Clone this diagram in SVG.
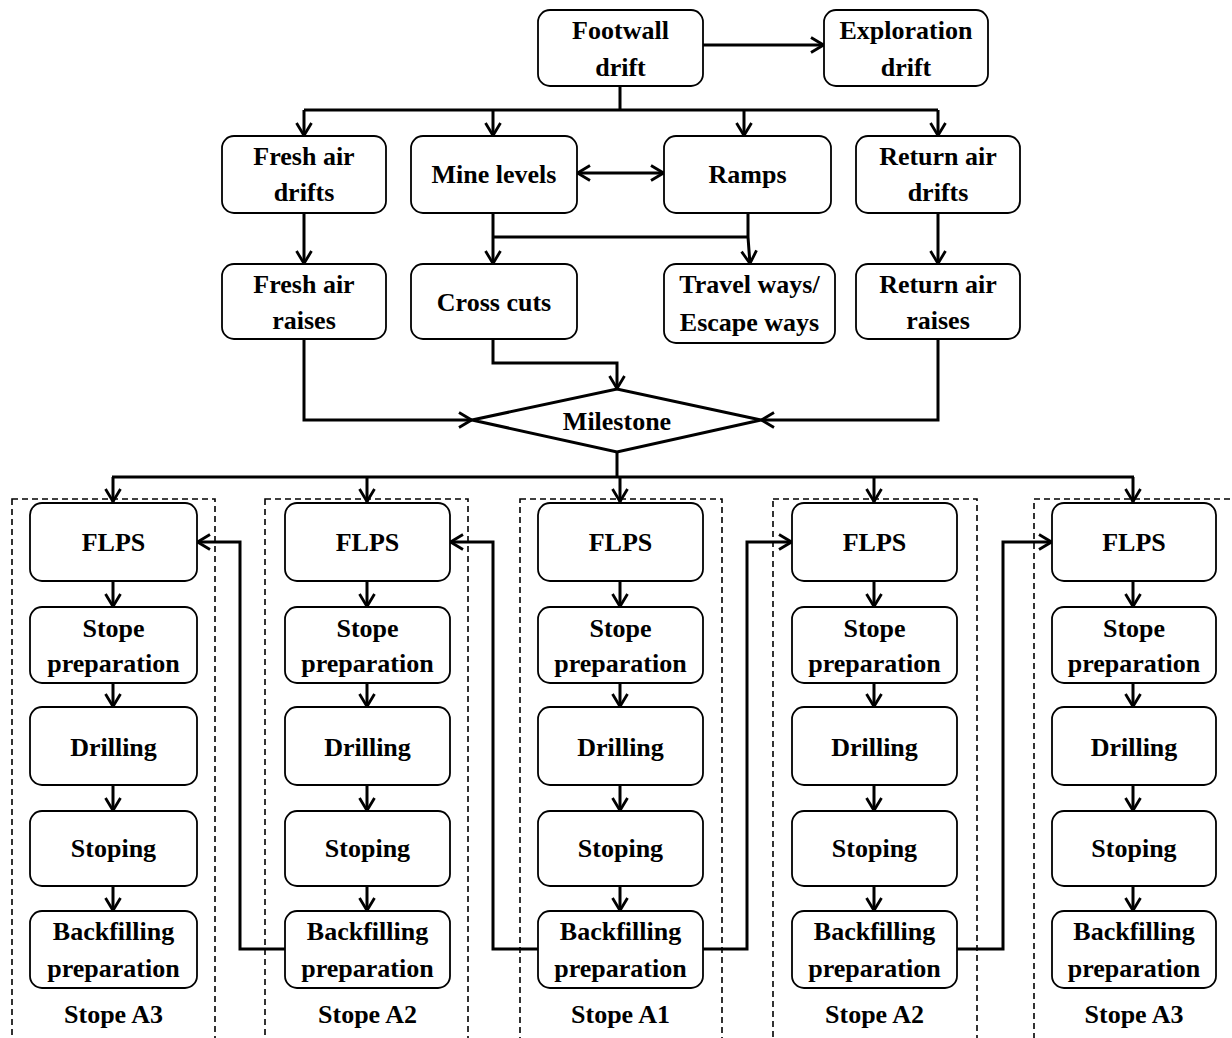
<svg xmlns="http://www.w3.org/2000/svg" width="1232" height="1038" viewBox="0 0 1232 1038">
  <style>
    .box { fill: #fff; stroke: #000; stroke-width: 1.8; }
    .grp { fill: none; stroke: #000; stroke-width: 1.6; stroke-dasharray: 6 4; }
    .lbl { font-family: "Liberation Serif", "Times New Roman", serif; font-weight: bold; font-size: 26px; text-anchor: middle; fill: #000; }
    .wire { fill: none; stroke: #000; stroke-width: 3; }
    .arr { marker-end: url(#head); }
  </style>
  <defs>
    <marker id="head" viewBox="0 0 16 18" refX="14.5" refY="9" markerWidth="16" markerHeight="18" markerUnits="userSpaceOnUse" orient="auto-start-reverse">
      <path d="M1.5,1.5 L14,9 L1.5,16.5" fill="none" stroke="#000" stroke-width="2.8"/>
    </marker>
  </defs>

  <rect width="1232" height="1038" fill="#fff"/>

  <!-- stope group frames -->
  <g id="stope-frames">
    <rect class="grp" x="12" y="499" width="203" height="560"/>
    <rect class="grp" x="265" y="499" width="203" height="560"/>
    <rect class="grp" x="520" y="499" width="202" height="560"/>
    <rect class="grp" x="773" y="499" width="204" height="560"/>
    <rect class="grp" x="1034" y="499" width="210" height="560"/>
  </g>

  <!-- connectors -->
  <g id="connectors">
    <path class="wire arr" d="M703,45 H824"/>
    <path class="wire" d="M620,86 V110 M304,110 H938"/>
    <path class="wire arr" d="M304,110 V136"/>
    <path class="wire arr" d="M493,110 V136"/>
    <path class="wire arr" d="M744,110 V136"/>
    <path class="wire arr" d="M938,110 V136"/>
    <path class="wire arr" d="M577,173 H664" marker-start="url(#head)"/>
    <path class="wire arr" d="M304,213 V264"/>
    <path class="wire arr" d="M493,213 V264"/>
    <path class="wire" d="M493,237 H748"/>
    <path class="wire arr" d="M748,213 V237 L750,264"/>
    <path class="wire arr" d="M938,213 V264"/>
    <path class="wire arr" d="M493,339 V363 H617 V389"/>
    <path class="wire arr" d="M304,339 V420 H472"/>
    <path class="wire arr" d="M938,339 V420 H761"/>
    <path class="wire" d="M617,452 V477 M112,477 H1134"/>
    <path class="wire arr" d="M113,477 V502"/>
    <path class="wire arr" d="M367,477 V502"/>
    <path class="wire arr" d="M620,477 V502"/>
    <path class="wire arr" d="M874,477 V502"/>
    <path class="wire arr" d="M1133,477 V502"/>
    <!-- steps inside each stope -->
    <g id="stope-steps">
      <path class="wire arr" d="M113,581 V607"/>
      <path class="wire arr" d="M113,683 V707"/>
      <path class="wire arr" d="M113,785 V811"/>
      <path class="wire arr" d="M113,886 V911"/>
      <path class="wire arr" d="M367,581 V607"/>
      <path class="wire arr" d="M367,683 V707"/>
      <path class="wire arr" d="M367,785 V811"/>
      <path class="wire arr" d="M367,886 V911"/>
      <path class="wire arr" d="M620,581 V607"/>
      <path class="wire arr" d="M620,683 V707"/>
      <path class="wire arr" d="M620,785 V811"/>
      <path class="wire arr" d="M620,886 V911"/>
      <path class="wire arr" d="M874,581 V607"/>
      <path class="wire arr" d="M874,683 V707"/>
      <path class="wire arr" d="M874,785 V811"/>
      <path class="wire arr" d="M874,886 V911"/>
      <path class="wire arr" d="M1133,581 V607"/>
      <path class="wire arr" d="M1133,683 V707"/>
      <path class="wire arr" d="M1133,785 V811"/>
      <path class="wire arr" d="M1133,886 V911"/>
    </g>
    <!-- backfilling hand-over to the next stope -->
    <path class="wire arr" d="M285,949 H240 V542 H197"/>
    <path class="wire arr" d="M538,949 H493 V542 H450"/>
    <path class="wire arr" d="M703,949 H747 V542 H792"/>
    <path class="wire arr" d="M957,949 H1003 V542 H1052"/>
  </g>

  <!-- development nodes -->
  <g id="footwall-drift">
    <rect class="box" x="538" y="10" width="165" height="76" rx="12"/>
    <text class="lbl" x="620.5" y="39">Footwall</text>
    <text class="lbl" x="620.5" y="76">drift</text>
  </g>
  <g id="exploration-drift">
    <rect class="box" x="824" y="10" width="164" height="76" rx="12"/>
    <text class="lbl" x="906" y="39">Exploration</text>
    <text class="lbl" x="906" y="76">drift</text>
  </g>
  <g id="fresh-air-drifts">
    <rect class="box" x="222" y="136" width="164" height="77" rx="12"/>
    <text class="lbl" x="304" y="165">Fresh air</text>
    <text class="lbl" x="304" y="201">drifts</text>
  </g>
  <g id="mine-levels">
    <rect class="box" x="411" y="136" width="166" height="77" rx="12"/>
    <text class="lbl" x="494" y="183">Mine levels</text>
  </g>
  <g id="ramps">
    <rect class="box" x="664" y="136" width="167" height="77" rx="12"/>
    <text class="lbl" x="747.5" y="183">Ramps</text>
  </g>
  <g id="return-air-drifts">
    <rect class="box" x="856" y="136" width="164" height="77" rx="12"/>
    <text class="lbl" x="938" y="165">Return air</text>
    <text class="lbl" x="938" y="201">drifts</text>
  </g>
  <g id="fresh-air-raises">
    <rect class="box" x="222" y="264" width="164" height="75" rx="12"/>
    <text class="lbl" x="304" y="293">Fresh air</text>
    <text class="lbl" x="304" y="329">raises</text>
  </g>
  <g id="cross-cuts">
    <rect class="box" x="411" y="264" width="166" height="75" rx="12"/>
    <text class="lbl" x="494" y="311">Cross cuts</text>
  </g>
  <g id="travel-ways">
    <rect class="box" x="664" y="264" width="171" height="79" rx="12"/>
    <text class="lbl" x="749.5" y="293">Travel ways/</text>
    <text class="lbl" x="749.5" y="331">Escape ways</text>
  </g>
  <g id="return-air-raises">
    <rect class="box" x="856" y="264" width="164" height="75" rx="12"/>
    <text class="lbl" x="938" y="293">Return air</text>
    <text class="lbl" x="938" y="329">raises</text>
  </g>
  <g id="milestone">
    <polygon points="472,420 617,389 761,420 617,452" fill="#fff" stroke="#000" stroke-width="3"/>
    <text class="lbl" x="617" y="430">Milestone</text>
  </g>

  <!-- stope A3 (left) -->
  <g id="stope-a3-left">
    <g id="a3l-flps"><rect class="box" x="30" y="503" width="167" height="78" rx="12"/><text class="lbl" x="113.5" y="551">FLPS</text></g>
    <g id="a3l-prep"><rect class="box" x="30" y="607" width="167" height="76" rx="12"/><text class="lbl" x="113.5" y="637">Stope</text><text class="lbl" x="113.5" y="672">preparation</text></g>
    <g id="a3l-drill"><rect class="box" x="30" y="707" width="167" height="78" rx="12"/><text class="lbl" x="113.5" y="756">Drilling</text></g>
    <g id="a3l-stoping"><rect class="box" x="30" y="811" width="167" height="75" rx="12"/><text class="lbl" x="113.5" y="857">Stoping</text></g>
    <g id="a3l-backfill"><rect class="box" x="30" y="911" width="167" height="77" rx="12"/><text class="lbl" x="113.5" y="940">Backfilling</text><text class="lbl" x="113.5" y="977">preparation</text></g>
    <text class="lbl" x="113.5" y="1023">Stope A3</text>
  </g>

  <!-- stope A2 (left) -->
  <g id="stope-a2-left">
    <g id="a2l-flps"><rect class="box" x="285" y="503" width="165" height="78" rx="12"/><text class="lbl" x="367.5" y="551">FLPS</text></g>
    <g id="a2l-prep"><rect class="box" x="285" y="607" width="165" height="76" rx="12"/><text class="lbl" x="367.5" y="637">Stope</text><text class="lbl" x="367.5" y="672">preparation</text></g>
    <g id="a2l-drill"><rect class="box" x="285" y="707" width="165" height="78" rx="12"/><text class="lbl" x="367.5" y="756">Drilling</text></g>
    <g id="a2l-stoping"><rect class="box" x="285" y="811" width="165" height="75" rx="12"/><text class="lbl" x="367.5" y="857">Stoping</text></g>
    <g id="a2l-backfill"><rect class="box" x="285" y="911" width="165" height="77" rx="12"/><text class="lbl" x="367.5" y="940">Backfilling</text><text class="lbl" x="367.5" y="977">preparation</text></g>
    <text class="lbl" x="367.5" y="1023">Stope A2</text>
  </g>

  <!-- stope A1 (centre) -->
  <g id="stope-a1">
    <g id="a1-flps"><rect class="box" x="538" y="503" width="165" height="78" rx="12"/><text class="lbl" x="620.5" y="551">FLPS</text></g>
    <g id="a1-prep"><rect class="box" x="538" y="607" width="165" height="76" rx="12"/><text class="lbl" x="620.5" y="637">Stope</text><text class="lbl" x="620.5" y="672">preparation</text></g>
    <g id="a1-drill"><rect class="box" x="538" y="707" width="165" height="78" rx="12"/><text class="lbl" x="620.5" y="756">Drilling</text></g>
    <g id="a1-stoping"><rect class="box" x="538" y="811" width="165" height="75" rx="12"/><text class="lbl" x="620.5" y="857">Stoping</text></g>
    <g id="a1-backfill"><rect class="box" x="538" y="911" width="165" height="77" rx="12"/><text class="lbl" x="620.5" y="940">Backfilling</text><text class="lbl" x="620.5" y="977">preparation</text></g>
    <text class="lbl" x="620.5" y="1023">Stope A1</text>
  </g>

  <!-- stope A2 (right) -->
  <g id="stope-a2-right">
    <g id="a2r-flps"><rect class="box" x="792" y="503" width="165" height="78" rx="12"/><text class="lbl" x="874.5" y="551">FLPS</text></g>
    <g id="a2r-prep"><rect class="box" x="792" y="607" width="165" height="76" rx="12"/><text class="lbl" x="874.5" y="637">Stope</text><text class="lbl" x="874.5" y="672">preparation</text></g>
    <g id="a2r-drill"><rect class="box" x="792" y="707" width="165" height="78" rx="12"/><text class="lbl" x="874.5" y="756">Drilling</text></g>
    <g id="a2r-stoping"><rect class="box" x="792" y="811" width="165" height="75" rx="12"/><text class="lbl" x="874.5" y="857">Stoping</text></g>
    <g id="a2r-backfill"><rect class="box" x="792" y="911" width="165" height="77" rx="12"/><text class="lbl" x="874.5" y="940">Backfilling</text><text class="lbl" x="874.5" y="977">preparation</text></g>
    <text class="lbl" x="874.5" y="1023">Stope A2</text>
  </g>

  <!-- stope A3 (right) -->
  <g id="stope-a3-right">
    <g id="a3r-flps"><rect class="box" x="1052" y="503" width="164" height="78" rx="12"/><text class="lbl" x="1134" y="551">FLPS</text></g>
    <g id="a3r-prep"><rect class="box" x="1052" y="607" width="164" height="76" rx="12"/><text class="lbl" x="1134" y="637">Stope</text><text class="lbl" x="1134" y="672">preparation</text></g>
    <g id="a3r-drill"><rect class="box" x="1052" y="707" width="164" height="78" rx="12"/><text class="lbl" x="1134" y="756">Drilling</text></g>
    <g id="a3r-stoping"><rect class="box" x="1052" y="811" width="164" height="75" rx="12"/><text class="lbl" x="1134" y="857">Stoping</text></g>
    <g id="a3r-backfill"><rect class="box" x="1052" y="911" width="164" height="77" rx="12"/><text class="lbl" x="1134" y="940">Backfilling</text><text class="lbl" x="1134" y="977">preparation</text></g>
    <text class="lbl" x="1134" y="1023">Stope A3</text>
  </g>
</svg>
